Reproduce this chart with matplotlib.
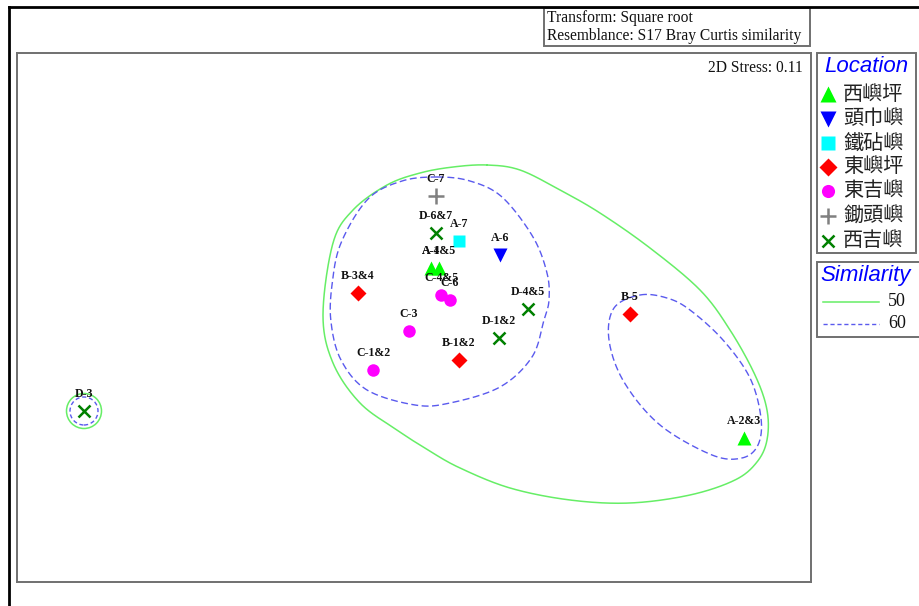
import numpy as np
import matplotlib
matplotlib.use("Agg")
import matplotlib.pyplot as plt
from matplotlib.patches import Rectangle, Circle

# ---------------- data (MDS coordinates) ----------------
labels = ["C-7", "D-6&7", "A-7", "A-6", "A-1", "A-4&5", "C-4&5", "C-6", "B-3&4",
          "C-3", "C-1&2", "B-1&2", "D-1&2", "D-4&5", "B-5", "A-2&3", "D-3"]
x_vals = [0.22, 0.22, 0.45, 0.86, 0.17, 0.25, 0.27, 0.36, -0.56,
          -0.05, -0.41, 0.45, 0.85, 1.14, 2.16, 3.30, -3.30]
y_vals = [1.21, 0.84, 0.76, 0.62, 0.49, 0.49, 0.22, 0.17, 0.24,
          -0.14, -0.53, -0.43, -0.21, 0.08, 0.03, -1.21, -0.94]
groups = ["鋤頭嶼", "西吉嶼", "鐵砧嶼", "頭巾嶼", "西嶼坪", "西嶼坪", "東吉嶼", "東吉嶼", "東嶼坪",
          "東吉嶼", "東吉嶼", "東嶼坪", "西吉嶼", "西吉嶼", "東嶼坪", "西嶼坪", "西吉嶼"]

locations = ["西嶼坪", "頭巾嶼", "鐵砧嶼", "東嶼坪", "東吉嶼", "鋤頭嶼", "西吉嶼"]
loc_markers = ["^", "v", "s", "D", "o", "+", "x"]
loc_colors = ["#00ff00", "#0000ff", "#00ffff", "#ff0000", "#ff00ff", "#808080", "#008000"]
loc_sizes = [10.5, 10.5, 9, 8.5, 9, 12, 8.5]

# similarity contours (closed outlines in MDS coordinates)
sim50_main_x = [0.73, 1.06, 1.46, 1.86, 2.36, 2.86, 3.16, 3.41, 3.53, 3.53, 3.43, 3.21, 2.76, 2.16,
                1.56, 0.96, 0.46, 0.14, -0.17, -0.54, -0.81, -0.91, -0.81, -0.61, -0.27, 0.06, 0.39]
sim50_main_y = [1.52, 1.47, 1.27, 1.04, 0.69, 0.27, -0.13, -0.58, -0.93, -1.23, -1.45, -1.63, -1.78, -1.86,
                -1.83, -1.71, -1.51, -1.33, -1.13, -0.86, -0.46, 0.02, 0.74, 1.07, 1.32, 1.44, 1.50]
sim60_main_x = [0.23, 0.56, 0.88, 1.19, 1.33, 1.35, 1.30, 1.18, 0.86, 0.36, 0.01, -0.47,
                -0.73, -0.83, -0.82, -0.73, -0.46, -0.12]
sim60_main_y = [1.40, 1.36, 1.20, 0.80, 0.44, 0.17, -0.03, -0.40, -0.70, -0.86, -0.88, -0.73,
                -0.43, -0.05, 0.32, 0.74, 1.18, 1.36]
sim60_b_x = [2.26, 2.53, 2.76, 3.09, 3.36, 3.47, 3.44, 3.28, 2.98, 2.46, 2.10, 1.95, 2.00]
sim60_b_y = [0.22, 0.19, 0.07, -0.23, -0.61, -1.01, -1.28, -1.41, -1.38, -1.08, -0.65, -0.23, 0.09]
d3_center = (-3.30, -0.94)
d3_radius50 = 0.175
d3_radius60 = 0.14

sim_levels = ["50", "60"]
green_line = "#66ee66"
blue_line = "#5a5aee"

# ---------------- helpers ----------------
W, H = 920, 606

def px_rect(x0, y0, x1, y1):
    return [x0 / W, 1 - y1 / H, (x1 - x0) / W, (y1 - y0) / H]

def closed_spline(xs, ys, n=30):
    P = np.column_stack([xs, ys])
    m = len(P)
    out = []
    t = np.linspace(0, 1, n, endpoint=False)[:, None]
    for i in range(m):
        p0, p1, p2, p3 = P[(i - 1) % m], P[i], P[(i + 1) % m], P[(i + 2) % m]
        seg = 0.5 * (2 * p1 + (-p0 + p2) * t + (2 * p0 - 5 * p1 + 4 * p2 - p3) * t ** 2
                     + (-p0 + 3 * p1 - 3 * p2 + p3) * t ** 3)
        out.append(seg)
    out = np.vstack(out + [P[:1]])
    return out[:, 0], out[:, 1]

# ---------------- figure ----------------
fig = plt.figure(figsize=(9.2, 6.06), dpi=100)
fig.patch.set_facecolor("white")

ax = fig.add_axes(px_rect(17, 53, 811, 582))
ax.set_xlim(-3.97, 3.97)
ax.set_ylim(-2.65, 2.64)
ax.set_xticks([])
ax.set_yticks([])
for s in ax.spines.values():
    s.set_color("#707070")
    s.set_linewidth(1.4)

# contours
gx, gy = closed_spline(sim50_main_x, sim50_main_y)
ax.plot(gx, gy, color=green_line, lw=1.1, zorder=1)
bx, by = closed_spline(sim60_main_x, sim60_main_y)
ax.plot(bx, by, color=blue_line, lw=1.0, dashes=(5, 2.5), zorder=1)
bx2, by2 = closed_spline(sim60_b_x, sim60_b_y)
ax.plot(bx2, by2, color=blue_line, lw=1.0, dashes=(5, 2.5), zorder=1)
ax.add_patch(Circle(d3_center, d3_radius50, fill=False, ec=green_line, lw=1.1, zorder=1))
ax.add_patch(Circle(d3_center, d3_radius60, fill=False, ec=blue_line, lw=1.0,
                    linestyle=(0, (3, 2)), zorder=1))

# points
for lab, xv, yv, g in zip(labels, x_vals, y_vals, groups):
    k = locations.index(g)
    mk = loc_markers[k]
    if mk in ("+", "x"):
        ax.plot(xv, yv, mk, color=loc_colors[k], ms=loc_sizes[k], mew=1.8, zorder=3)
    else:
        ax.plot(xv, yv, mk, color=loc_colors[k], ms=loc_sizes[k], mec="none", zorder=3)
    ax.annotate(lab, (xv, yv), xytext=(0, 12), textcoords="offset points",
                ha="center", va="center", fontsize=8.6, fontweight="bold",
                family="Liberation Serif", color="#111111", zorder=4)

ax.text(0.99, 0.972, "2D Stress: 0.11", transform=ax.transAxes, ha="right", va="center",
        fontsize=11.2, family="Liberation Serif", color="#111111")

# ---------------- overlay (boxes / legends) ----------------
ov = fig.add_axes([0, 0, 1, 1], zorder=5)
ov.set_xlim(0, W)
ov.set_ylim(H, 0)
ov.axis("off")
ov.patch.set_alpha(0)

# outer frame
ov.plot([9, 9], [606, 7], color="black", lw=2.0, solid_capstyle="projecting")
ov.plot([9, 920], [7, 7], color="black", lw=2.0, solid_capstyle="projecting")

# info box
ov.add_patch(Rectangle((544, 8), 266, 38, fill=False, ec="#707070", lw=1.4))
ov.text(547, 18, "Transform: Square root", fontsize=11.2, family="Liberation Serif",
        va="center", ha="left", color="#111111")
ov.text(547, 36, "Resemblance: S17 Bray Curtis similarity", fontsize=11.2,
        family="Liberation Serif", va="center", ha="left", color="#111111")

# location legend
ov.add_patch(Rectangle((817, 53), 99, 200, fill=False, ec="#707070", lw=1.4))
ov.text(866, 67, "Location", fontsize=16, style="italic", family="Liberation Sans",
        color="#0000ff", ha="center", va="center")
entry_y = [94, 119, 143, 167, 191, 216, 241]
for k, loc in enumerate(locations):
    mk = loc_markers[k]
    if mk in ("+", "x"):
        ov.plot(828, entry_y[k], mk, color=loc_colors[k], ms=loc_sizes[k] * 1.0, mew=1.8)
    else:
        ov.plot(828, entry_y[k], mk, color=loc_colors[k], ms=loc_sizes[k] * 1.05, mec="none")
    ov.text(843, entry_y[k], loc, fontsize=14.5, family=["Noto Sans CJK TC", "DejaVu Sans"],
            color="#222222", ha="left", va="center")

# similarity legend
ov.add_patch(Rectangle((817, 262), 103, 75, fill=False, ec="#707070", lw=1.4))
ov.text(820, 275, "Similarity", fontsize=16, style="italic", family="Liberation Sans",
        color="#0000ff", ha="left", va="center")
ov.plot([823, 879], [302, 302], color=green_line, lw=1.1)
ov.plot([823, 879], [324, 324], color=blue_line, lw=1.0, dashes=(3, 2))
ov.text(888, 302, sim_levels[0], fontsize=13, family="Liberation Serif", color="#111111",
        ha="left", va="center")
ov.text(888, 324, sim_levels[1], fontsize=13, family="Liberation Serif", color="#111111",
        ha="left", va="center")

fig.savefig("out.png", dpi=100)
